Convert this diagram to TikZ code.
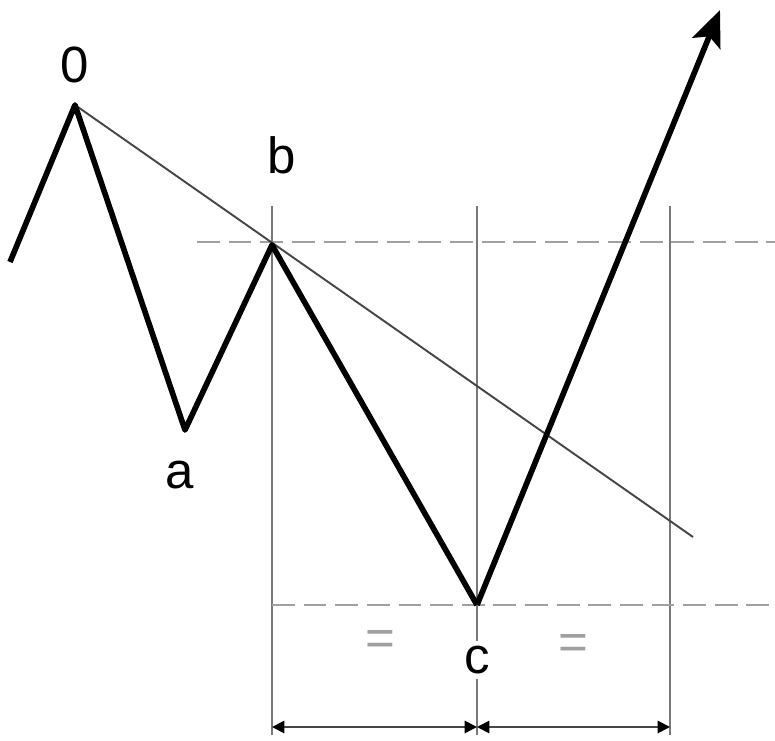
\documentclass[tikz,border=0pt]{standalone}
\usepackage{fontspec}
\setmainfont{Liberation Sans}
\usetikzlibrary{arrows.meta, calc}
\definecolor{guide}{RGB}{120,120,120}
\definecolor{level}{RGB}{160,160,160}
\definecolor{trend}{RGB}{70,70,70}

\begin{document}
\begin{tikzpicture}[every node/.style={font=\fontsize{29}{34}\selectfont},
    wave/.style={line width=3.2pt, line join=round, black},
    trendline/.style={line width=1.1pt, trend},
    guideline/.style={line width=1.3pt, guide},
    levelline/.style={line width=1.3pt, level, dash pattern=on 13pt off 5pt},
    measure/.style={line width=1.1pt, trend, {Triangle[length=7pt,width=7pt,color=black]}-{Triangle[length=7pt,width=7pt,color=black]}}]
  \useasboundingbox (0,0) rectangle (15.5,14.8);

  % turning points of the wave
  \coordinate (S) at (0.2,9.56);
  \coordinate (O) at (1.5,12.7);
  \coordinate (a) at (3.7,6.2);
  \coordinate (b) at (5.44,9.9);
  \coordinate (c) at (9.54,2.7);
  \coordinate (E) at (14.4,14.6);
  \coordinate (T) at (13.86,4.06);

  % vertical guides and dimension marks
  \foreach \x/\n in {5.44/1, 9.54/2, 13.4/3}{
    \coordinate (g\n) at (\x,10.68);
    \coordinate (h\n) at (\x,0.1);
    \coordinate (d\n) at (\x,0.26);
    \draw[guideline] (g\n) -- (h\n);
  }
  \draw[measure] (d1) -- (d2);
  \draw[measure] (d2) -- (d3);

  % horizontal levels through b and c
  \coordinate (bl) at (3.94,9.96);
  \coordinate (br) at (15.5,9.96);
  \coordinate (cl) at (5.44,2.7);
  \coordinate (cr) at (15.5,2.7);
  \draw[levelline] (bl) -- (br);
  \draw[levelline] (cl) -- (cr);

  % labels
  \node (lO) at (1.5,13.5) {0};
  \node (lb) at (5.64,11.7) {b};
  \node (la) at (3.6,5.3) {a};
  \node[fill=white, inner sep=3pt] (lc) at (9.54,1.6) {c};
  \node[level] (eq1) at (7.6,1.94) {=};
  \node[level] (eq2) at (11.46,1.86) {=};

  % trend line from 0 through b
  \draw[trendline] (O) -- (T);

  % the wave itself
  \draw[wave] (S) -- (O) -- (a) -- (b) -- (c);
  \draw[wave, -{Stealth[length=0.72cm,width=0.6cm,inset=0.15cm]}] (c) -- (E);
\end{tikzpicture}
\end{document}
